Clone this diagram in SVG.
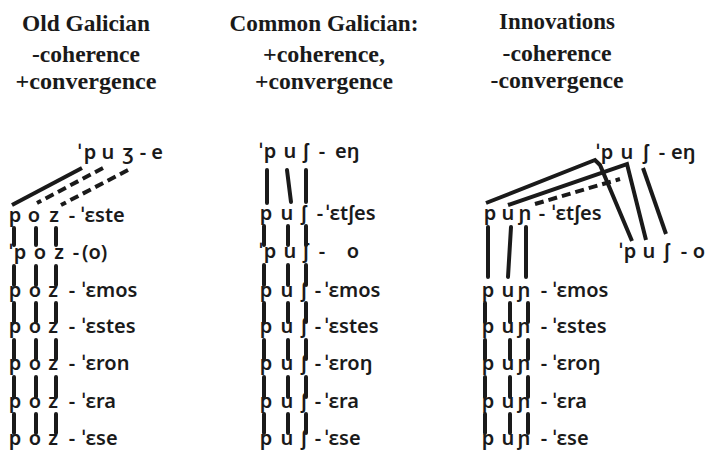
<svg xmlns="http://www.w3.org/2000/svg" width="707" height="451" viewBox="0 0 707 451">
<style>
.h{font-family:"Liberation Serif","Times New Roman",serif;font-weight:bold;font-size:23px;fill:#1a1a1a;text-anchor:middle}
.t{font-family:"Noto Sans","DejaVu Sans",sans-serif;font-weight:600;font-size:20px;fill:#1a1a1a}
.m{text-anchor:middle}
.bar{stroke:#1a1a1a;stroke-width:4;stroke-linecap:round;fill:none}
.ln{stroke:#1a1a1a;stroke-width:4;fill:none;stroke-linejoin:miter}
.dash{stroke:#1a1a1a;stroke-width:4;fill:none;stroke-dasharray:9 5}
</style>
<rect width="707" height="451" fill="#fff"/>
<g id="headers">
<text class="h" x="86" y="31" textLength="128" lengthAdjust="spacingAndGlyphs">Old Galician</text>
<text class="h" x="86" y="62" textLength="108" lengthAdjust="spacingAndGlyphs">-coherence</text>
<text class="h" x="86" y="89" textLength="141" lengthAdjust="spacingAndGlyphs">+convergence</text>
<text class="h" x="324" y="31" textLength="189" lengthAdjust="spacingAndGlyphs">Common Galician:</text>
<text class="h" x="324" y="62" textLength="122" lengthAdjust="spacingAndGlyphs">+coherence,</text>
<text class="h" x="324" y="89" textLength="138" lengthAdjust="spacingAndGlyphs">+convergence</text>
<text class="h" x="557" y="29" textLength="116" lengthAdjust="spacingAndGlyphs">Innovations</text>
<text class="h" x="557" y="61" textLength="109" lengthAdjust="spacingAndGlyphs">-coherence</text>
<text class="h" x="557" y="88" textLength="133" lengthAdjust="spacingAndGlyphs">-convergence</text>
</g>
<g id="connectors">
<!-- Old Galician -->
<line class="ln" x1="82" y1="168" x2="12" y2="205"/>
<line class="dash" x1="103" y1="168" x2="37" y2="203"/>
<line class="dash" x1="128" y1="170" x2="61" y2="205"/>
<path class="bar" d="M14,228V245M36,228V245M56,228V245M14,266V285M36,266V285M56,266V285M14,303V322M36,303V322M56,303V322M14,340V359M36,340V359M56,340V359M14,377V397M36,377V397M56,377V397M14,414V433M36,414V433M56,414V433"/>
<!-- Common Galician -->
<path class="bar" d="M267,170V203M287,170L291,202M306,170V202"/>
<path class="bar" d="M264,226V245M288,226V245M306,226V245M264,265V285M288,265V285M306,265V285M264,303V322M288,303V322M306,303V322M264,340V359M288,340V359M306,340V359M264,377V397M288,377V397M306,377V397M264,414V433M288,414V433M306,414V433"/>
<!-- Innovations -->
<polyline class="ln" points="486,203 595,160 600,165 632,241"/>
<polyline class="ln" points="508,205 627,164 646,240"/>
<line class="ln" x1="643" y1="168" x2="666" y2="234"/>
<line class="dash" x1="535" y1="204" x2="620" y2="179"/>
<path class="bar" d="M488,227V277M511,227L508,277M526,227V277"/>
<path class="bar" d="M485,303V322M510,303V322M528,303V322M485,340V359M510,340V359M528,340V359M485,377V397M510,377V397M528,377V397M485,414V433M510,414V433M528,414V433"/>
</g>
<g id="og-top"><text class="t" y="159"><tspan x="78">ˈ</tspan><tspan class="m" x="90">p</tspan></text><text class="t m" y="159"><tspan x="108">u</tspan><tspan x="128">ʒ</tspan><tspan x="143">-</tspan><tspan x="157">e</tspan></text></g>
<g id="og-1"><text class="t m" y="222"><tspan x="15">p</tspan><tspan x="34">o</tspan><tspan x="54">z</tspan><tspan x="72">-</tspan></text><text class="t" x="81" y="222">ˈɛste</text></g>
<g id="og-2"><text class="t m" y="259"><tspan x="11">ˈ</tspan><tspan x="20">p</tspan><tspan x="40">o</tspan><tspan x="59">z</tspan><tspan x="76">-</tspan></text><text class="t" x="82" y="259">(o)</text></g>
<g id="og-3"><text class="t m" y="297"><tspan x="15">p</tspan><tspan x="35">o</tspan><tspan x="53">z</tspan><tspan x="72">-</tspan></text><text class="t" x="82" y="297">ˈɛmos</text></g>
<g id="og-4"><text class="t m" y="333"><tspan x="15">p</tspan><tspan x="35">o</tspan><tspan x="53">z</tspan><tspan x="72">-</tspan></text><text class="t" x="82" y="333">ˈɛstes</text></g>
<g id="og-5"><text class="t m" y="370"><tspan x="15">p</tspan><tspan x="35">o</tspan><tspan x="53">z</tspan><tspan x="72">-</tspan></text><text class="t" x="82" y="370">ˈɛron</text></g>
<g id="og-6"><text class="t m" y="408"><tspan x="15">p</tspan><tspan x="35">o</tspan><tspan x="53">z</tspan><tspan x="72">-</tspan></text><text class="t" x="82" y="408">ˈɛra</text></g>
<g id="og-7"><text class="t m" y="445"><tspan x="15">p</tspan><tspan x="35">o</tspan><tspan x="53">z</tspan><tspan x="72">-</tspan></text><text class="t" x="82" y="445">ˈɛse</text></g>

<g id="cg-top"><text class="t m" y="158"><tspan x="261">ˈ</tspan><tspan x="270">p</tspan><tspan x="290">u</tspan><tspan x="306">ʃ</tspan><tspan x="322">-</tspan></text><text class="t" x="335" y="158">eŋ</text></g>
<g id="cg-1"><text class="t m" y="220"><tspan x="266">p</tspan><tspan x="287">u</tspan><tspan x="304">ʃ</tspan><tspan x="320">-</tspan></text><text class="t" x="326" y="220">ˈɛtʃes</text></g>
<g id="cg-2"><text class="t m" y="258"><tspan x="261">ˈ</tspan><tspan x="270">p</tspan><tspan x="290">u</tspan><tspan x="306">ʃ</tspan><tspan x="322">-</tspan><tspan x="353">o</tspan></text></g>
<g id="cg-3"><text class="t m" y="297"><tspan x="266">p</tspan><tspan x="287">u</tspan><tspan x="304">ʃ</tspan><tspan x="318">-</tspan></text><text class="t" x="325" y="297">ˈɛmos</text></g>
<g id="cg-4"><text class="t m" y="333"><tspan x="266">p</tspan><tspan x="287">u</tspan><tspan x="304">ʃ</tspan><tspan x="318">-</tspan></text><text class="t" x="325" y="333">ˈɛstes</text></g>
<g id="cg-5"><text class="t m" y="370"><tspan x="266">p</tspan><tspan x="287">u</tspan><tspan x="304">ʃ</tspan><tspan x="318">-</tspan></text><text class="t" x="325" y="370">ˈɛroŋ</text></g>
<g id="cg-6"><text class="t m" y="408"><tspan x="266">p</tspan><tspan x="287">u</tspan><tspan x="304">ʃ</tspan><tspan x="318">-</tspan></text><text class="t" x="325" y="408">ˈɛra</text></g>
<g id="cg-7"><text class="t m" y="445"><tspan x="266">p</tspan><tspan x="287">u</tspan><tspan x="304">ʃ</tspan><tspan x="318">-</tspan></text><text class="t" x="325" y="445">ˈɛse</text></g>

<g id="in-top"><text class="t m" y="159"><tspan x="598">ˈ</tspan><tspan x="607">p</tspan><tspan x="627">u</tspan><tspan x="646">ʃ</tspan><tspan x="662">-</tspan></text><text class="t" x="671" y="159">eŋ</text></g>
<g id="in-1"><text class="t m" y="220"><tspan x="490">p</tspan><tspan x="508">u</tspan><tspan x="525">ɲ</tspan><tspan x="542">-</tspan></text><text class="t" x="552" y="220">ˈɛtʃes</text></g>
<g id="in-2"><text class="t m" y="258"><tspan x="621">ˈ</tspan><tspan x="630">p</tspan><tspan x="649">u</tspan><tspan x="667">ʃ</tspan><tspan x="684">-</tspan><tspan x="699">o</tspan></text></g>
<g id="in-3"><text class="t m" y="297"><tspan x="488">p</tspan><tspan x="508">u</tspan><tspan x="524">ɲ</tspan><tspan x="544">-</tspan></text><text class="t" x="553" y="297">ˈɛmos</text></g>
<g id="in-4"><text class="t m" y="333"><tspan x="488">p</tspan><tspan x="508">u</tspan><tspan x="524">ɲ</tspan><tspan x="544">-</tspan></text><text class="t" x="553" y="333">ˈɛstes</text></g>
<g id="in-5"><text class="t m" y="370"><tspan x="488">p</tspan><tspan x="508">u</tspan><tspan x="524">ɲ</tspan><tspan x="544">-</tspan></text><text class="t" x="553" y="370">ˈɛroŋ</text></g>
<g id="in-6"><text class="t m" y="408"><tspan x="488">p</tspan><tspan x="508">u</tspan><tspan x="524">ɲ</tspan><tspan x="544">-</tspan></text><text class="t" x="553" y="408">ˈɛra</text></g>
<g id="in-7"><text class="t m" y="445"><tspan x="488">p</tspan><tspan x="508">u</tspan><tspan x="524">ɲ</tspan><tspan x="544">-</tspan></text><text class="t" x="553" y="445">ˈɛse</text></g>
</svg>
